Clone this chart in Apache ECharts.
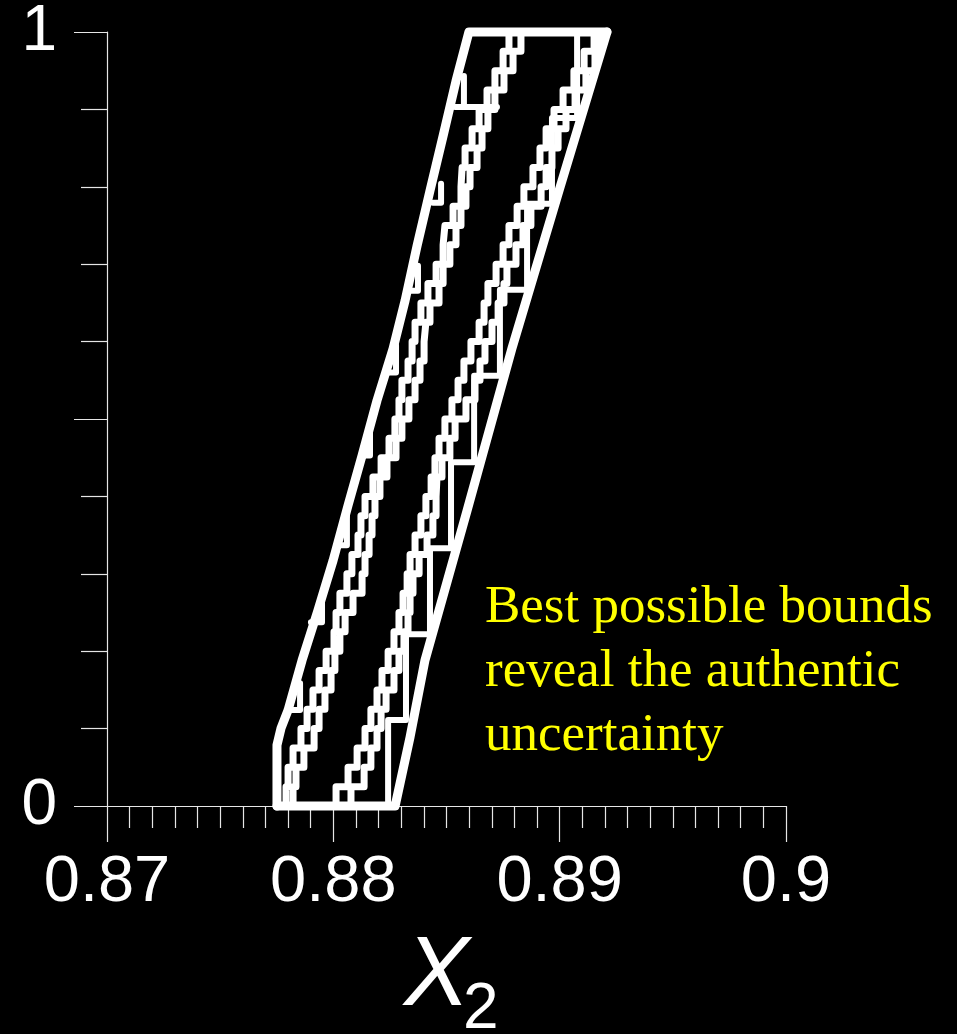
<!DOCTYPE html>
<html>
<head>
<meta charset="utf-8">
<script src="https://cdn.jsdelivr.net/npm/echarts@6/dist/echarts.min.js"></script>
<style>
  html, body { margin: 0; padding: 0; background: #000; }
  #main-chart { width: 957px; height: 1034px; }
</style>
</head>
<body>
<div id="main-chart"></div>
<script>
// Tick labels
var xTickLabels = { '0.87': '0.87', '0.88': '0.88', '0.89': '0.89', '0.9': '0.9' };
var yTickLabels = { '0': '0', '1': '1' };

// Best possible bounds (outer envelope)
var outerLeftX = [0.87751, 0.87751, 0.87769, 0.87800, 0.87862, 0.87932, 0.87999, 0.88065, 0.88127, 0.88193,
                  0.88264, 0.88317, 0.88370, 0.88427, 0.88485, 0.88542, 0.88599, 0.89209];
var outerLeftP = [0, 0.0787, 0.1006, 0.1239, 0.1884, 0.2529, 0.3174, 0.3884, 0.4529, 0.5239,
                  0.5910, 0.6529, 0.7239, 0.7948, 0.8658, 0.9368, 1, 1];
var outerRightX = [0.87751, 0.88273, 0.88339, 0.88405, 0.88591, 0.88789, 0.89001, 0.89209];
var outerRightP = [0, 0, 0.0890, 0.1884, 0.3819, 0.5910, 0.7987, 1];

// Fine discretization levels of the inner p-boxes
var stepLevels = [0, 0.025, 0.05, 0.075, 0.1, 0.125, 0.15, 0.175, 0.2, 0.225,
                  0.25, 0.275, 0.3, 0.325, 0.35, 0.375, 0.4, 0.425, 0.45, 0.475,
                  0.5, 0.525, 0.55, 0.575, 0.6, 0.625, 0.65, 0.675, 0.7, 0.725,
                  0.75, 0.775, 0.8, 0.825, 0.85, 0.875, 0.9, 0.925, 0.95, 0.975, 1];
var leftInnerA = [0.87782, 0.87791, 0.87800, 0.87822, 0.87857, 0.87884, 0.87910, 0.87937, 0.87968, 0.88003,
                  0.88012, 0.88029, 0.88060, 0.88082, 0.88109, 0.88122, 0.88140, 0.88175, 0.88211, 0.88246,
                  0.88272, 0.88290, 0.88303, 0.88330, 0.88348, 0.88361, 0.88387, 0.88418, 0.88454, 0.88485,
                  0.88493, 0.88529, 0.88564, 0.88569, 0.88582, 0.88613, 0.88644, 0.88679, 0.88714, 0.88750, 0.88776];
var leftInnerB = [0.87800, 0.87822, 0.87835, 0.87870, 0.87915, 0.87937, 0.87963, 0.87990, 0.88007, 0.88029,
                  0.88052, 0.88087, 0.88127, 0.88140, 0.88158, 0.88171, 0.88184, 0.88206, 0.88237, 0.88277,
                  0.88303, 0.88334, 0.88361, 0.88383, 0.88401, 0.88409, 0.88427, 0.88467, 0.88485, 0.88515,
                  0.88542, 0.88564, 0.88586, 0.88604, 0.88635, 0.88657, 0.88683, 0.88714, 0.88754, 0.88794, 0.88829];
var rightInnerA = [0.87968, 0.88012, 0.88065, 0.88105, 0.88140, 0.88166, 0.88193, 0.88215, 0.88242, 0.88268,
                   0.88290, 0.88308, 0.88326, 0.88339, 0.88361, 0.88387, 0.88409, 0.88432, 0.88449, 0.88467,
                   0.88493, 0.88524, 0.88551, 0.88577, 0.88608, 0.88644, 0.88666, 0.88683, 0.88719, 0.88750,
                   0.88776, 0.88812, 0.88842, 0.88882, 0.88913, 0.88940, 0.88975, 0.89015, 0.89063, 0.89108, 0.89152];
var rightInnerB = [0.88012, 0.88078, 0.88136, 0.88166, 0.88193, 0.88211, 0.88233, 0.88268, 0.88290, 0.88312,
                   0.88330, 0.88339, 0.88352, 0.88379, 0.88414, 0.88440, 0.88454, 0.88458, 0.88480, 0.88515,
                   0.88538, 0.88586, 0.88626, 0.88648, 0.88670, 0.88701, 0.88728, 0.88754, 0.88767, 0.88807,
                   0.88838, 0.88873, 0.88918, 0.88940, 0.88966, 0.88993, 0.89028, 0.89068, 0.89116, 0.89156, 0.89174];

// Coarse right bound (9 steps)
var coarseLevels = [0, 0.111, 0.222, 0.333, 0.444, 0.556, 0.667, 0.778, 0.889, 1];
var coarseRightX = [0.88242, 0.88321, 0.88427, 0.88520, 0.88622, 0.88736, 0.88856, 0.88966, 0.89077, 0.89209];

// Coarse left corners (short teeth against the left envelope)
var toothP     = [0.1239, 0.2374, 0.3368, 0.4529, 0.5600, 0.6658, 0.7794, 0.9032];
var toothTopP  = [0.1587, 0.2658, 0.3755, 0.4852, 0.5948, 0.6981, 0.8039, 0.9432];
var toothFromX = [0.87800, 0.87901, 0.88025, 0.88127, 0.88237, 0.88334, 0.88440, 0.88538];
var toothX     = [0.87853, 0.87950, 0.88060, 0.88162, 0.88277, 0.88374, 0.88476, 0.88577];
var toothReachX = [0.87853, 0.87950, 0.88060, 0.88162, 0.88277, 0.88374, 0.88476, 0.88723];

var chart = echarts.init(document.getElementById('main-chart'), null, { renderer: 'canvas' });

function zip(xs, ps) {
    return xs.map(function (x, i) { return [x, ps[i]]; });
}

var white = '#ffffff';
var series = [];

function addLine(data, width, step) {
    series.push({
        type: 'line',
        data: data,
        step: step || false,
        symbol: 'none',
        clip: false,
        silent: true,
        lineStyle: { color: white, width: width, cap: 'round', join: 'round' }
    });
}

addLine(zip(outerLeftX, outerLeftP), 9);
addLine(zip(outerRightX, outerRightP), 9);
addLine(zip(leftInnerA, stepLevels).concat([[0.89209, 1]]), 7, 'end');
addLine(zip(leftInnerB, stepLevels).concat([[0.89209, 1]]), 7, 'end');
addLine([[0.87751, 0]].concat(zip(rightInnerA, stepLevels)), 7, 'end');
addLine([[0.87751, 0]].concat(zip(rightInnerB, stepLevels)), 7, 'end');
addLine(zip(coarseRightX, coarseLevels), 6, 'start');
toothP.forEach(function (p, i) {
    addLine([[toothX[i], toothTopP[i]], [toothX[i], p], [toothFromX[i], p], [toothReachX[i], p]], 6);
});

var axisColor = '#e6e6e6';
var option = {
    backgroundColor: '#000000',
    animation: false,
    grid: { left: 107, top: 31, width: 679, height: 775, containLabel: false },
    xAxis: {
        type: 'value',
        min: 0.87, max: 0.9, interval: 0.01,
        axisLine: { lineStyle: { color: axisColor, width: 1.2 } },
        axisTick: { length: 36, lineStyle: { color: axisColor, width: 1.2 } },
        minorTick: { show: true, splitNumber: 10, length: 22, lineStyle: { color: axisColor, width: 1.2 } },
        splitLine: { show: false },
        axisLabel: {
            color: white, fontSize: 65, fontFamily: 'Liberation Sans', margin: 45,
            formatter: function (v) { return xTickLabels[String(+v.toFixed(2))] || ''; }
        }
    },
    yAxis: {
        type: 'value',
        min: 0, max: 1, interval: 0.5,
        axisLine: { show: true, lineStyle: { color: axisColor, width: 1.2 } },
        axisTick: { show: true, length: 33, lineStyle: { color: axisColor, width: 1.2 } },
        minorTick: { show: true, splitNumber: 5, length: 26, lineStyle: { color: axisColor, width: 1.2 } },
        splitLine: { show: false },
        axisLabel: {
            color: white, fontSize: 64, fontFamily: 'Liberation Sans', margin: 50,
            formatter: function (v) { return yTickLabels[String(v)] || ''; }
        }
    },
    graphic: [
        { type: 'text', left: 404, top: 929,
          style: { text: 'X', fill: white, font: 'italic 98px "Liberation Sans"' } },
        { type: 'text', left: 463, top: 978,
          style: { text: '2', fill: white, font: '64px "Liberation Sans"' } },
        { type: 'text', left: 485, top: 576,
          style: { text: 'Best possible bounds\nreveal the authentic\nuncertainty', fill: '#ffff00',
                   font: '53px "Liberation Serif"', lineHeight: 64 } }
    ],
    series: series
};

chart.setOption(option);
</script>
</body>
</html>
